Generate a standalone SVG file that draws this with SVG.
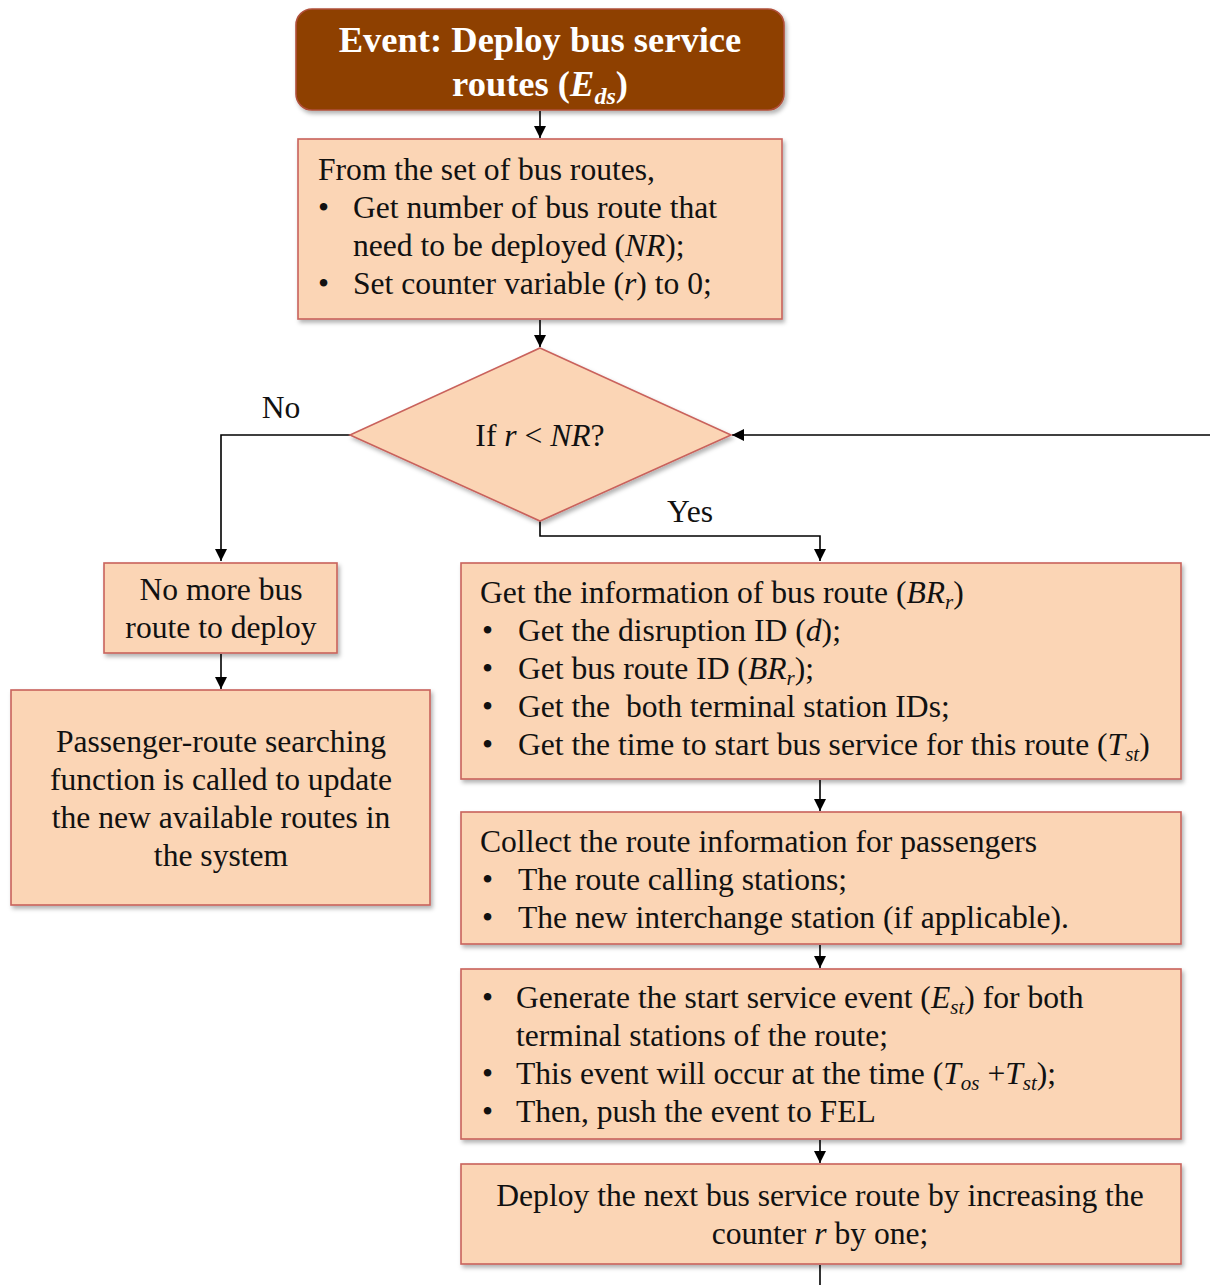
<svg xmlns="http://www.w3.org/2000/svg" width="1210" height="1285" viewBox="0 0 1210 1285">
  <defs>
    <marker id="arrow" viewBox="0 0 12 12" refX="12" refY="6" markerWidth="12" markerHeight="12" markerUnits="userSpaceOnUse" orient="auto">
      <path d="M0,0 L12,6 L0,12 z" fill="#000"/>
    </marker>
    <filter id="shadow" x="-5%" y="-5%" width="112%" height="120%">
      <feDropShadow dx="2" dy="3" stdDeviation="2" flood-color="#000" flood-opacity="0.3"/>
    </filter>
  </defs>
  <style>
    .box { fill: #fbd5b5; stroke: #c9625c; stroke-width: 1.6; filter: url(#shadow); }
    .event { fill: #8e3f05; stroke: #b0503a; stroke-width: 1.6; filter: url(#shadow); }
    .txt { font-family: "Liberation Serif", "Times New Roman", serif; font-size: 31.6px; fill: #111; }
    .etxt { font-family: "Liberation Serif", "Times New Roman", serif; font-size: 36.5px; font-weight: bold; fill: #fff; }
    .mid { text-anchor: middle; }
    .it { font-style: italic; }
    .sub { font-size: 21px; font-style: italic; }
    .conn { fill: none; stroke: #000; stroke-width: 1.6; }
  </style>
  <rect width="1210" height="1285" fill="#fff"/>

  <!-- connectors -->
  <g id="connectors">
    <path class="conn" d="M540,111 L540,138" marker-end="url(#arrow)"/>
    <path class="conn" d="M540,320 L540,347" marker-end="url(#arrow)"/>
    <path class="conn" d="M350,435 L221,435 L221,561" marker-end="url(#arrow)"/>
    <path class="conn" d="M540,521 L540,536 L820,536 L820,561" marker-end="url(#arrow)"/>
    <path class="conn" d="M221,654 L221,689" marker-end="url(#arrow)"/>
    <path class="conn" d="M820,780 L820,811" marker-end="url(#arrow)"/>
    <path class="conn" d="M820,945 L820,968" marker-end="url(#arrow)"/>
    <path class="conn" d="M820,1140 L820,1163" marker-end="url(#arrow)"/>
    <path class="conn" d="M820,1265 L820,1285"/>
    <path class="conn" d="M1210,435 L732,435" marker-end="url(#arrow)"/>
    <text class="txt mid" x="281" y="418">No</text>
    <text class="txt mid" x="690" y="522">Yes</text>
  </g>

  <!-- start event -->
  <g id="event">
    <rect class="event" x="296" y="9" width="488" height="101" rx="16" ry="16"/>
    <text class="etxt mid" x="540" y="52">Event: Deploy bus service</text>
    <text class="etxt mid" x="540" y="96">routes (<tspan font-style="italic">E</tspan><tspan font-size="24" font-style="italic" dy="8">ds</tspan><tspan dy="-8">)</tspan></text>
  </g>

  <!-- initialise -->
  <g id="init">
    <rect class="box" x="298" y="139" width="484" height="180"/>
    <text class="txt" x="318" y="180">From the set of bus routes,</text>
    <text class="txt" x="318" y="218">•</text>
    <text class="txt" x="353" y="218">Get number of bus route that</text>
    <text class="txt" x="353" y="256">need to be deployed (<tspan class="it">NR</tspan>);</text>
    <text class="txt" x="318" y="294">•</text>
    <text class="txt" x="353" y="294">Set counter variable (<tspan class="it">r</tspan>) to 0;</text>
  </g>

  <!-- decision -->
  <g id="decision">
    <polygon class="box" points="540,348 731,435 540,521 350,435"/>
    <text class="txt mid" x="540" y="446">If <tspan class="it">r</tspan> &lt; <tspan class="it">NR</tspan>?</text>
  </g>

  <!-- no branch -->
  <g id="no-more">
    <rect class="box" x="104" y="563" width="233" height="90"/>
    <text class="txt mid" x="221" y="600">No more bus</text>
    <text class="txt mid" x="221" y="638">route to deploy</text>
  </g>

  <g id="route-search">
    <rect class="box" x="11" y="690" width="419" height="215"/>
    <text class="txt mid" x="221" y="752">Passenger-route searching</text>
    <text class="txt mid" x="221" y="790">function is called to update</text>
    <text class="txt mid" x="221" y="828">the new available routes in</text>
    <text class="txt mid" x="221" y="866">the system</text>
  </g>

  <!-- yes branch -->
  <g id="route-info">
    <rect class="box" x="461" y="563" width="720" height="216"/>
    <text class="txt" x="480" y="603">Get the information of bus route (<tspan class="it">BR</tspan><tspan class="sub" dy="6">r</tspan><tspan dy="-6">)</tspan></text>
    <text class="txt" x="482" y="641">•</text>
    <text class="txt" x="518" y="641">Get the disruption ID (<tspan class="it">d</tspan>);</text>
    <text class="txt" x="482" y="679">•</text>
    <text class="txt" x="518" y="679">Get bus route ID (<tspan class="it">BR</tspan><tspan class="sub" dy="6">r</tspan><tspan dy="-6">);</tspan></text>
    <text class="txt" x="482" y="717">•</text>
    <text class="txt" x="518" y="717" xml:space="preserve">Get the  both terminal station IDs;</text>
    <text class="txt" x="482" y="755">•</text>
    <text class="txt" x="518" y="755">Get the time to start bus service for this route (<tspan class="it">T</tspan><tspan class="sub" dy="6">st</tspan><tspan dy="-6">)</tspan></text>
  </g>

  <g id="collect">
    <rect class="box" x="461" y="812" width="720" height="132"/>
    <text class="txt" x="480" y="852">Collect the route information for passengers</text>
    <text class="txt" x="482" y="890">•</text>
    <text class="txt" x="518" y="890">The route calling stations;</text>
    <text class="txt" x="482" y="928">•</text>
    <text class="txt" x="518" y="928">The new interchange station (if applicable).</text>
  </g>

  <g id="generate">
    <rect class="box" x="461" y="969" width="720" height="170"/>
    <text class="txt" x="482" y="1008">•</text>
    <text class="txt" x="516" y="1008">Generate the start service event (<tspan class="it">E</tspan><tspan class="sub" dy="6">st</tspan><tspan dy="-6">) for both</tspan></text>
    <text class="txt" x="516" y="1046">terminal stations of the route;</text>
    <text class="txt" x="482" y="1084">•</text>
    <text class="txt" x="516" y="1084">This event will occur at the time (<tspan class="it">T</tspan><tspan class="sub" dy="6">os</tspan><tspan dy="-6"> +</tspan><tspan class="it">T</tspan><tspan class="sub" dy="6">st</tspan><tspan dy="-6">);</tspan></text>
    <text class="txt" x="482" y="1122">•</text>
    <text class="txt" x="516" y="1122">Then, push the event to FEL</text>
  </g>

  <g id="increment">
    <rect class="box" x="461" y="1164" width="720" height="100"/>
    <text class="txt mid" x="820" y="1206">Deploy the next bus service route by increasing the</text>
    <text class="txt mid" x="820" y="1244">counter <tspan class="it">r</tspan> by one;</text>
  </g>
</svg>
